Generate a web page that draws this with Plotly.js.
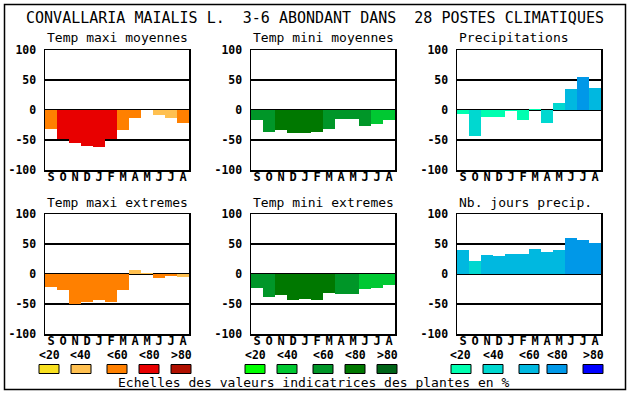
<!DOCTYPE html>
<html>
<head>
<meta charset="utf-8">
<script src="https://cdn.plot.ly/plotly-3.0.1.min.js"></script>
<style>
html,body{margin:0;padding:0;background:#fff;}
#chart{width:630px;height:394px;}
</style>
</head>
<body>
<div id="chart"></div>
<script>
// ---- data ----
const months = ['S','O','N','D','J','F','M','A','M','J','J','A'];
const yTickVals = [-100,-50,0,50,100];
const yTickText = ['-100','-50','0','50','100'];
const legendLabels = ['<20','<40','<60','<80','>80'];

const tempPalette  = ['#f8e020','#ffc050','#ff8000','#e80000','#b01000'];
const greenPalette = ['#00ff00','#00c832','#009628','#007800','#006418'];
const bluePalette  = ['#00ffb0','#00d8d0','#00b8e0','#0098e8','#0000ff'];

// values (%), and indicator class (-1 = blank)
const maxiMoyVals  = [-31,-49,-55,-60,-62,-49,-34,-14,-3,-8,-14,-21];
const maxiMoyClass = [2,3,3,3,3,3,2,2,-1,1,1,2];
const miniMoyVals  = [-17,-36,-34,-38,-38,-36,-31,-15,-15,-26,-24,-16];
const miniMoyClass = [2,2,3,3,3,3,2,2,2,2,1,1];
const precVals     = [-7,-44,-11,-12,-2,-17,2,-21,12,35,55,37];
const precClass    = [0,1,0,0,0,0,0,1,1,2,3,2];
const maxiExtVals  = [-21,-26,-50,-46,-43,-46,-26,7,2,-6,-3,-5];
const maxiExtClass = [2,2,2,2,2,2,2,1,1,2,2,1];
const miniExtVals  = [-23,-38,-35,-43,-41,-43,-31,-33,-33,-25,-23,-18];
const miniExtClass = [2,2,3,3,3,3,3,2,2,1,1,1];
const joursVals    = [40,22,32,30,33,33,42,37,40,60,57,52];
const joursClass   = [2,1,2,2,2,2,2,2,2,3,3,3];

const mainTitle = 'CONVALLARIA MAIALIS L.  3-6 ABONDANT DANS  28 POSTES CLIMATIQUES';
const footer = 'Echelles des valeurs indicatrices des plantes en %';

// ---- layout ----
const W = 630, H = 394;
const px = x => x / W;
const py = y => 1 - y / H;
const FONT = '"DejaVu Sans Mono", monospace';

const panels = [
  {t:'Temp maxi moyennes', v:maxiMoyVals, c:maxiMoyClass, p:tempPalette,  x0:45,  x1:189, y0:50,  y1:170},
  {t:'Temp mini moyennes', v:miniMoyVals, c:miniMoyClass, p:greenPalette, x0:251, x1:395, y0:50,  y1:170},
  {t:'Precipitations',     v:precVals,    c:precClass,    p:bluePalette,  x0:457, x1:601, y0:50,  y1:170},
  {t:'Temp maxi extremes', v:maxiExtVals, c:maxiExtClass, p:tempPalette,  x0:45,  x1:189, y0:214, y1:334},
  {t:'Temp mini extremes', v:miniExtVals, c:miniExtClass, p:greenPalette, x0:251, x1:395, y0:214, y1:334},
  {t:'Nb. jours precip.',  v:joursVals,   c:joursClass,   p:bluePalette,  x0:457, x1:601, y0:214, y1:334}
];

const traces = [];
const layout = {
  width: W, height: H,
  margin: {l:0, r:0, t:0, b:0},
  paper_bgcolor: '#fff', plot_bgcolor: '#fff',
  showlegend: false,
  bargap: 0,
  font: {family: FONT, color: '#000'},
  title: {text: mainTitle, x: 0.5, xanchor: 'center', xref: 'paper',
          y: py(18), yanchor: 'middle', yref: 'container',
          font: {family: FONT, size: 15, color: '#000'}},
  annotations: [],
  shapes: []
};

panels.forEach((P, i) => {
  const n = i + 1;
  const xa = 'xaxis' + (n === 1 ? '' : n), ya = 'yaxis' + (n === 1 ? '' : n);
  const colors = P.c.map(k => k < 0 ? '#ffffff' : P.p[k]);
  traces.push({
    type: 'bar',
    x: months.map((m, j) => j),
    y: P.v,
    width: 1,
    marker: {color: colors, line: {width: 0}},
    xaxis: 'x' + (n === 1 ? '' : n),
    yaxis: 'y' + (n === 1 ? '' : n),
    hoverinfo: 'skip'
  });
  layout[xa] = {
    domain: [px(P.x0), px(P.x1)],
    anchor: 'y' + (n === 1 ? '' : n),
    range: [-0.5, 11.5],
    tickmode: 'array', tickvals: months.map((m, j) => j), ticktext: months,
    ticks: '', showgrid: false, zeroline: false,
    showline: true, mirror: true, linecolor: '#000', linewidth: 1.5,
    tickfont: {family: FONT, size: 12, weight: 'bold', color: '#000'},
    ticklabelstandoff: -5,
    fixedrange: true
  };
  layout[ya] = {
    domain: [py(P.y1), py(P.y0)],
    anchor: 'x' + (n === 1 ? '' : n),
    range: [-100, 100],
    tickmode: 'array', tickvals: yTickVals, ticktext: yTickText,
    ticks: '', showgrid: true, gridcolor: '#000', gridwidth: 1.3,
    zeroline: true, zerolinecolor: '#000', zerolinewidth: 1.5,
    showline: true, mirror: true, linecolor: '#000', linewidth: 1.5,
    tickfont: {family: FONT, size: 11.5, weight: 'bold', color: '#000'},
    ticklabelstandoff: 5,
    layer: 'above traces',
    fixedrange: true
  };
  layout.annotations.push({
    text: P.t, xref: 'paper', yref: 'paper',
    x: px(P.x0), y: py(P.y0 - 12), xanchor: 'left', yanchor: 'middle',
    showarrow: false, font: {family: FONT, size: 13, color: '#000'}
  });
});

// legend scales
const groupLefts = [
  [39, 71, 107, 139, 171],
  [245, 277, 313, 345, 377],
  [451, 483, 519, 547, 583]
];
const groupPalettes = [tempPalette, greenPalette, bluePalette];
groupLefts.forEach((lefts, g) => {
  lefts.forEach((lx, k) => {
    layout.shapes.push({
      type: 'rect', xref: 'paper', yref: 'paper',
      x0: px(lx), x1: px(lx + 20), y0: py(373.5), y1: py(364.5),
      fillcolor: groupPalettes[g][k], line: {color: '#000', width: 1}
    });
    layout.annotations.push({
      text: legendLabels[k], xref: 'paper', yref: 'paper',
      x: px(lx + 10), y: py(355), xanchor: 'center', yanchor: 'middle',
      showarrow: false, font: {family: FONT, size: 11.5, weight: 'bold', color: '#000'}
    });
  });
});

layout.annotations.push({
  text: footer, xref: 'paper', yref: 'paper',
  x: px(314), y: py(382.5), xanchor: 'center', yanchor: 'middle',
  showarrow: false, font: {family: FONT, size: 13, color: '#000'}
});

// outer border
layout.shapes.push({
  type: 'rect', xref: 'paper', yref: 'paper',
  x0: px(4.5), x1: px(625.5), y0: py(389.5), y1: py(4.5),
  line: {color: '#000', width: 1.5}, fillcolor: 'rgba(0,0,0,0)'
});

Plotly.newPlot('chart', traces, layout, {staticPlot: true, displayModeBar: false});
</script>
</body>
</html>
